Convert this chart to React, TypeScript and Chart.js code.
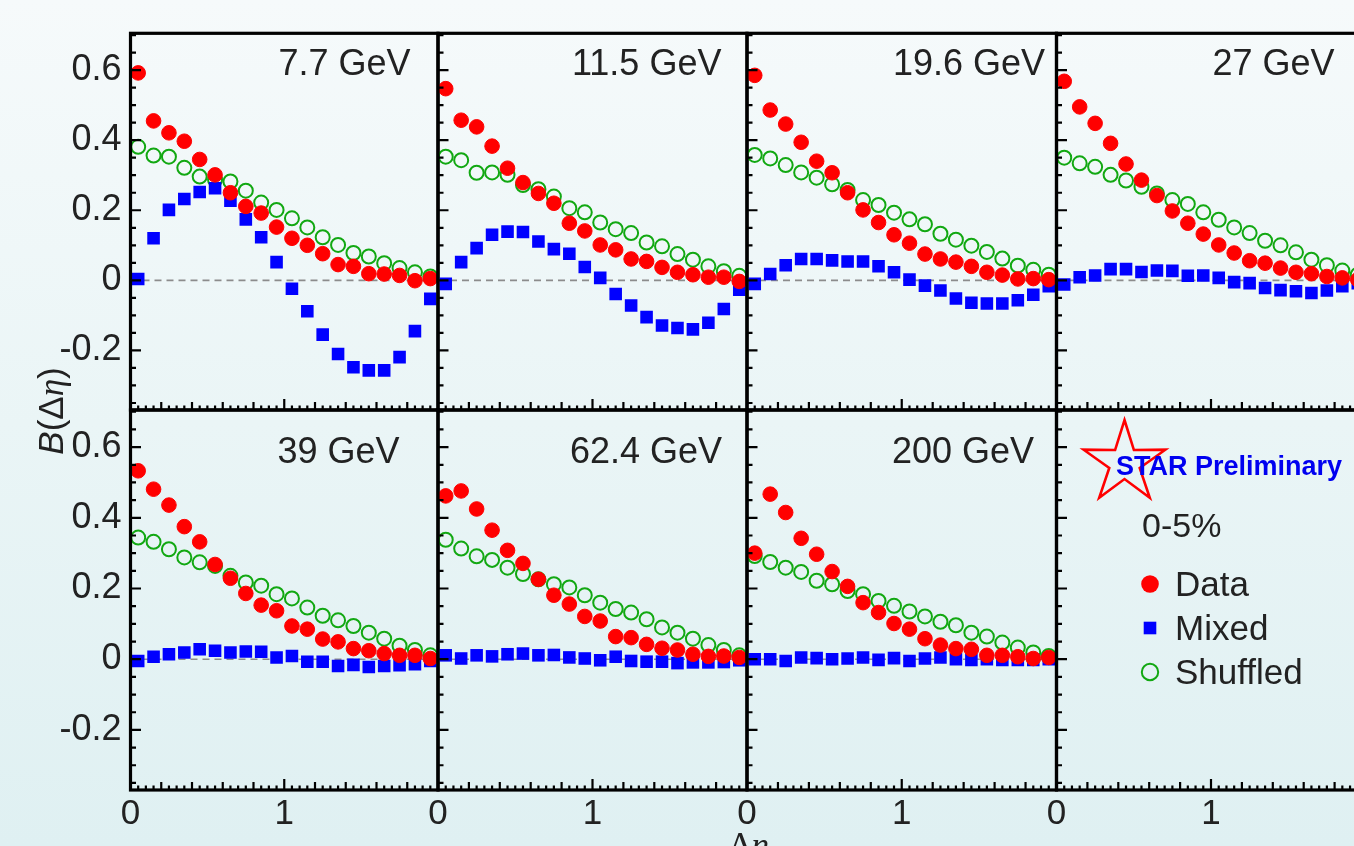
import React, { useEffect, useRef } from 'react';
import { Chart, registerables } from 'chart.js';

Chart.register(...registerables);

// ---------------- data ----------------
const ETA = [0.05, 0.15, 0.25, 0.35, 0.45, 0.55, 0.65, 0.75, 0.85, 0.95, 1.05, 1.15, 1.25, 1.35, 1.45, 1.55, 1.65, 1.75, 1.85, 1.95];
const ENERGIES = ['7.7 GeV', '11.5 GeV', '19.6 GeV', '27 GeV', '39 GeV', '62.4 GeV', '200 GeV'];
const X_TICKS = [0, 1];
const Y_TICKS = [-0.2, 0, 0.2, 0.4, 0.6];
const LEGEND_LABELS = ['Data', 'Mixed', 'Shuffled'];
const CENTRALITY = '0-5%';
const PRELIM = 'STAR Preliminary';

const data7_7 = [0.592, 0.455, 0.421, 0.397, 0.345, 0.301, 0.250, 0.211, 0.192, 0.152, 0.120, 0.100, 0.076, 0.045, 0.040, 0.019, 0.018, 0.014, -0.001, 0.005];
const mixed7_7 = [0.004, 0.120, 0.201, 0.232, 0.252, 0.263, 0.227, 0.174, 0.123, 0.052, -0.024, -0.088, -0.155, -0.210, -0.248, -0.257, -0.257, -0.219, -0.145, -0.053];
const shuffled7_7 = [0.381, 0.356, 0.353, 0.321, 0.296, 0.287, 0.282, 0.256, 0.222, 0.201, 0.177, 0.151, 0.123, 0.101, 0.078, 0.068, 0.049, 0.035, 0.023, 0.011];

const data11_5 = [0.547, 0.457, 0.438, 0.383, 0.320, 0.279, 0.248, 0.220, 0.163, 0.141, 0.101, 0.087, 0.061, 0.054, 0.037, 0.023, 0.016, 0.009, 0.009, -0.003];
const mixed11_5 = [-0.010, 0.052, 0.092, 0.130, 0.139, 0.138, 0.111, 0.089, 0.076, 0.038, 0.007, -0.039, -0.072, -0.105, -0.129, -0.136, -0.140, -0.121, -0.082, -0.027];
const shuffled11_5 = [0.353, 0.343, 0.307, 0.308, 0.301, 0.272, 0.260, 0.239, 0.206, 0.194, 0.165, 0.146, 0.135, 0.108, 0.097, 0.075, 0.059, 0.040, 0.026, 0.013];

const data19_6 = [0.585, 0.486, 0.446, 0.394, 0.340, 0.307, 0.250, 0.201, 0.165, 0.130, 0.106, 0.075, 0.061, 0.052, 0.040, 0.023, 0.015, 0.004, 0.005, 0.002];
const mixed19_6 = [-0.010, 0.018, 0.043, 0.061, 0.061, 0.057, 0.054, 0.054, 0.040, 0.023, 0.002, -0.015, -0.029, -0.052, -0.064, -0.066, -0.066, -0.057, -0.041, -0.017];
const shuffled19_6 = [0.358, 0.348, 0.329, 0.308, 0.293, 0.274, 0.258, 0.229, 0.215, 0.193, 0.174, 0.160, 0.133, 0.116, 0.099, 0.081, 0.062, 0.042, 0.030, 0.016];

const data27 = [0.568, 0.495, 0.448, 0.391, 0.332, 0.286, 0.242, 0.198, 0.163, 0.132, 0.101, 0.078, 0.056, 0.049, 0.035, 0.023, 0.019, 0.011, 0.007, 0.002];
const mixed27 = [-0.012, 0.009, 0.014, 0.032, 0.032, 0.024, 0.028, 0.027, 0.013, 0.014, 0.007, -0.005, -0.008, -0.022, -0.028, -0.031, -0.036, -0.029, -0.017, -0.008];
const shuffled27 = [0.350, 0.334, 0.324, 0.301, 0.285, 0.267, 0.248, 0.229, 0.218, 0.194, 0.173, 0.151, 0.135, 0.113, 0.100, 0.080, 0.059, 0.043, 0.028, 0.016];

const data39 = [0.533, 0.481, 0.436, 0.375, 0.332, 0.268, 0.229, 0.186, 0.153, 0.137, 0.094, 0.085, 0.057, 0.049, 0.030, 0.024, 0.016, 0.011, 0.011, 0.002];
const mixed39 = [-0.005, 0.007, 0.014, 0.019, 0.028, 0.024, 0.019, 0.022, 0.021, 0.005, 0.009, -0.007, -0.007, -0.019, -0.016, -0.022, -0.019, -0.017, -0.014, -0.005];
const shuffled39 = [0.344, 0.332, 0.311, 0.288, 0.274, 0.264, 0.236, 0.217, 0.208, 0.184, 0.172, 0.146, 0.123, 0.110, 0.094, 0.075, 0.058, 0.038, 0.026, 0.011];

const data62_4 = [0.462, 0.476, 0.425, 0.365, 0.308, 0.271, 0.226, 0.181, 0.156, 0.121, 0.108, 0.064, 0.061, 0.042, 0.031, 0.026, 0.014, 0.008, 0.009, 0.005];
const mixed62_4 = [0.011, 0.002, 0.011, 0.008, 0.014, 0.016, 0.011, 0.012, 0.005, 0.002, -0.003, 0.007, -0.005, -0.007, -0.007, -0.011, -0.009, -0.009, -0.008, -0.003];
const shuffled62_4 = [0.338, 0.313, 0.291, 0.281, 0.259, 0.241, 0.226, 0.212, 0.203, 0.181, 0.160, 0.142, 0.132, 0.113, 0.090, 0.075, 0.058, 0.040, 0.026, 0.011];

const data200 = [0.300, 0.467, 0.415, 0.342, 0.297, 0.248, 0.206, 0.160, 0.132, 0.101, 0.085, 0.058, 0.040, 0.030, 0.028, 0.011, 0.011, 0.007, 0.002, 0.005];
const mixed200 = [0.000, 0.000, -0.005, 0.005, 0.003, 0.000, 0.002, 0.005, -0.002, 0.003, -0.005, 0.002, 0.005, 0.000, -0.002, 0.000, -0.002, -0.002, -0.002, 0.000];
const shuffled200 = [0.292, 0.275, 0.259, 0.247, 0.222, 0.212, 0.193, 0.184, 0.165, 0.151, 0.135, 0.121, 0.106, 0.096, 0.075, 0.064, 0.047, 0.033, 0.019, 0.009];

const DATA = [data7_7, data11_5, data19_6, data27, data39, data62_4, data200];
const MIXED = [mixed7_7, mixed11_5, mixed19_6, mixed27, mixed39, mixed62_4, mixed200];
const SHUFFLED = [shuffled7_7, shuffled11_5, shuffled19_6, shuffled27, shuffled39, shuffled62_4, shuffled200];

// ---------------- layout & style ----------------
const CW = 1380;
const CH = 846;
const COL_EDGES = [130.5, 438, 747, 1056.5, 1365.5];
const ROW_EDGES = [33.3, 410, 790];
const Y_AXIS_W = 110;
const X_AXIS_H = 50;
const X_MIN = 0, X_MAX = 2;
const Y_MIN = -0.37, Y_MAX = 0.705;
const LABEL_OFFSET = [148, 134, 146, 156, 147, 132, 145];
const LABEL_BASELINE = [74.5, 463];

const RED = '#ff0000';
const BLUE = '#0000ff';
const GREEN = '#12a812';
const TEXT = '#222222';
const FONT = '"Liberation Sans", Arial, Helvetica, sans-serif';
const SERIF = '"Liberation Serif", "Times New Roman", serif';

Chart.defaults.font.family = FONT;

function drawPieces(ctx: CanvasRenderingContext2D, pieces: [string, string][], x: number, y: number, center: boolean) {
  let total = 0;
  for (const [t, f] of pieces) { ctx.font = f; total += ctx.measureText(t).width; }
  let cx = center ? x - total / 2 : x;
  for (const [t, f] of pieces) { ctx.font = f; ctx.fillText(t, cx, y); cx += ctx.measureText(t).width; }
}

function drawTitles(ctx: CanvasRenderingContext2D) {
  ctx.fillStyle = TEXT;
  ctx.textAlign = 'left';
  ctx.textBaseline = 'alphabetic';
  // y title
  ctx.save();
  ctx.translate(63, 411);
  ctx.rotate(-Math.PI / 2);
  drawPieces(ctx, [
    ['B', `italic 35px ${FONT}`],
    ['(', `35px ${FONT}`],
    ['\u0394', `35px ${FONT}`],
    ['\u03b7', `italic 35px ${SERIF}`],
    [')', `35px ${FONT}`],
  ], 0, 0, true);
  ctx.restore();
  // x title (cut by the page bottom)
  drawPieces(ctx, [
    ['\u0394', `35px ${SERIF}`],
    ['\u03b7', `italic 35px ${SERIF}`],
  ], 729, 857, false);
}

function drawLegend(ctx: CanvasRenderingContext2D, a: { left: number; top: number }) {
  const L = a.left, T = a.top;
  // star
  const cx = L + 68, cy = T + 53, R = 43, r = 16;
  ctx.save();
  ctx.strokeStyle = RED;
  ctx.lineWidth = 2.6;
  ctx.lineJoin = 'miter';
  ctx.beginPath();
  for (let k = 0; k < 10; k++) {
    const ang = -Math.PI / 2 + (k * Math.PI) / 5;
    const rad = k % 2 === 0 ? R : r;
    const px = cx + rad * Math.cos(ang), py = cy + rad * Math.sin(ang);
    if (k === 0) ctx.moveTo(px, py); else ctx.lineTo(px, py);
  }
  ctx.closePath();
  ctx.stroke();
  ctx.restore();

  ctx.textAlign = 'left';
  ctx.textBaseline = 'alphabetic';
  ctx.fillStyle = '#0000f0';
  ctx.font = `bold 27px ${FONT}`;
  ctx.fillText(PRELIM, L + 59.5, T + 65);

  ctx.fillStyle = TEXT;
  ctx.font = `34px ${FONT}`;
  ctx.fillText(CENTRALITY, L + 85.5, T + 127);

  const mx = L + 93.5;
  const rows = [T + 174, T + 218, T + 262];
  ctx.fillStyle = RED;
  ctx.beginPath(); ctx.arc(mx, rows[0], 8.8, 0, Math.PI * 2); ctx.fill();
  ctx.fillStyle = BLUE;
  ctx.fillRect(mx - 6.3, rows[1] - 6.3, 12.6, 12.6);
  ctx.strokeStyle = GREEN; ctx.lineWidth = 2;
  ctx.beginPath(); ctx.arc(mx, rows[2], 8.2, 0, Math.PI * 2); ctx.stroke();

  ctx.fillStyle = TEXT;
  ctx.font = `35px ${FONT}`;
  LEGEND_LABELS.forEach((t, k) => ctx.fillText(t, L + 118.5, rows[k] + 11.5));
}

const decorPlugin = {
  id: 'decor',
  beforeDatasetsDraw(chart: any, _args: any, o: any) {
    if (!o.zeroLine) return;
    const { ctx, scales } = chart;
    const py = scales.y.getPixelForValue(0);
    ctx.save();
    ctx.strokeStyle = '#8c8c8c';
    ctx.lineWidth = 1.6;
    ctx.setLineDash([7, 5]);
    ctx.beginPath();
    ctx.moveTo(scales.x.getPixelForValue(X_MIN), py);
    ctx.lineTo(scales.x.getPixelForValue(X_MAX), py);
    ctx.stroke();
    ctx.restore();
  },
  afterDraw(chart: any, _args: any, o: any) {
    const { ctx, chartArea: a, scales } = chart;
    const x = scales.x, y = scales.y;
    ctx.save();
    ctx.strokeStyle = '#000';
    ctx.lineCap = 'butt';
    ctx.lineWidth = 2.2;
    ctx.beginPath();
    for (let k = -7; k <= 14; k++) {
      const py = y.getPixelForValue(k * 0.05);
      const len = k % 4 === 0 ? 10.5 : 5.5;
      ctx.moveTo(a.left, py);
      ctx.lineTo(a.left + len, py);
    }
    for (let k = 1; k < 40; k++) {
      const px = x.getPixelForValue(k * 0.05);
      const len = k % 20 === 0 ? 11 : k % 4 === 0 ? 8 : 4.5;
      ctx.moveTo(px, a.bottom);
      ctx.lineTo(px, a.bottom - len);
    }
    ctx.stroke();
    ctx.lineWidth = 3.2;
    ctx.strokeRect(a.left, a.top, a.right - a.left, a.bottom - a.top);

    if (o.label) {
      ctx.fillStyle = TEXT;
      ctx.font = `36px ${FONT}`;
      ctx.textAlign = 'left';
      ctx.textBaseline = 'alphabetic';
      ctx.fillText(o.label, a.left + o.labelOffset, o.labelBaseline);
    }
    if (o.titles) drawTitles(ctx);
    if (o.legend) drawLegend(ctx, a);
    ctx.restore();
  },
};

function makeConfig(i: number): any {
  const col = i % 4;
  const row = Math.floor(i / 4);
  const left = COL_EDGES[col], right = COL_EDGES[col + 1];
  const top = ROW_EDGES[row], bottom = ROW_EDGES[row + 1];
  const yW = col === 0 ? Y_AXIS_W : 0;
  const xH = row === 1 ? X_AXIS_H : 0;
  const hasData = i < DATA.length;
  const pts = (arr: number[]) => ETA.map((x, k) => ({ x, y: arr[k] }));
  const datasets = hasData
    ? [
        {
          label: LEGEND_LABELS[0], data: pts(DATA[i]), showLine: false,
          pointStyle: 'circle', pointRadius: 7.3, pointBorderWidth: 1,
          pointBackgroundColor: RED, pointBorderColor: RED,
        },
        {
          label: LEGEND_LABELS[1], data: pts(MIXED[i]), showLine: false,
          pointStyle: 'rect', pointRadius: 8.9, pointBorderWidth: 0,
          pointBackgroundColor: BLUE, pointBorderColor: BLUE,
        },
        {
          label: LEGEND_LABELS[2], data: pts(SHUFFLED[i]), showLine: false,
          pointStyle: 'circle', pointRadius: 7, pointBorderWidth: 2,
          pointBackgroundColor: 'rgba(0,0,0,0)', pointBorderColor: GREEN,
        },
      ]
    : [];
  return {
    type: 'scatter',
    data: { datasets },
    options: {
      responsive: false,
      animation: false,
      events: [],
      layout: { padding: { left: left - yW, top, right: CW - right, bottom: CH - bottom - xH } },
      plugins: {
        legend: { display: false },
        tooltip: { enabled: false },
        decor: {
          zeroLine: hasData,
          label: hasData ? ENERGIES[i] : '',
          labelOffset: hasData ? LABEL_OFFSET[i] : 0,
          labelBaseline: LABEL_BASELINE[row],
          titles: i === 0,
          legend: !hasData,
        },
      },
      scales: {
        x: {
          type: 'linear', position: 'bottom', min: X_MIN, max: X_MAX,
          grid: { display: false }, border: { display: false },
          afterFit: (s: any) => { s.height = xH; },
          afterBuildTicks: (s: any) => { s.ticks = X_TICKS.map((v) => ({ value: v })); },
          ticks: {
            display: row === 1, color: TEXT, padding: -5, maxRotation: 0, autoSkip: false,
            font: { size: 35, family: FONT },
            callback: (v: any) => String(v),
          },
        },
        y: {
          type: 'linear', position: 'left', min: Y_MIN, max: Y_MAX,
          grid: { display: false }, border: { display: false },
          afterFit: (s: any) => { s.width = yW; },
          afterBuildTicks: (s: any) => { s.ticks = Y_TICKS.map((v) => ({ value: v })); },
          ticks: {
            display: col === 0, color: TEXT, padding: 1, autoSkip: false,
            font: { size: 36, family: FONT },
            callback: (v: any) => String(v),
          },
        },
      },
    },
    plugins: [decorPlugin],
  };
}

const PANELS = [0, 1, 2, 3, 4, 5, 6, 7];

export default function App() {
  const refs = useRef<(HTMLCanvasElement | null)[]>([]);
  useEffect(() => {
    const charts = PANELS.map((i) => new Chart(refs.current[i] as HTMLCanvasElement, makeConfig(i)));
    return () => charts.forEach((c) => c.destroy());
  }, []);
  return (
    <div
      style={{
        position: 'fixed', left: 0, top: 0, width: '100vw', height: '100vh', overflow: 'hidden',
        background: 'linear-gradient(180deg, #f6fafb 0%, #eaf5f6 50%, #dff0f2 100%)',
      }}
    >
      {PANELS.map((i) => (
        <canvas
          key={i}
          ref={(el) => { refs.current[i] = el; }}
          width={CW}
          height={CH}
          style={{ position: 'absolute', left: 0, top: 0, width: CW, height: CH }}
        />
      ))}
    </div>
  );
}
